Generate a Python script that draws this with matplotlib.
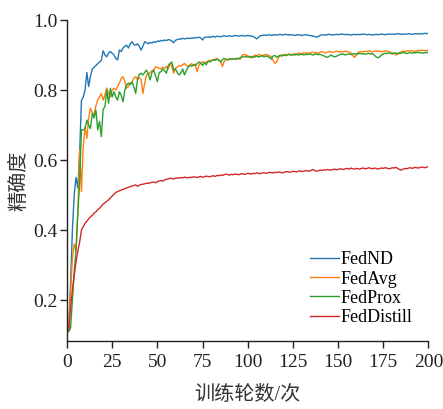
import numpy as np
import matplotlib
matplotlib.use("Agg")
import matplotlib.pyplot as plt

plt.rcParams['font.family'] = ['Liberation Serif', 'Noto Sans CJK SC']

# accuracy per training round (rounds 1..200)
fednd = [
    0.12, 0.25, 0.40, 0.50, 0.55, 0.52, 0.62, 0.77, 0.78, 0.80,
    0.85, 0.81, 0.84, 0.86, 0.865, 0.87, 0.875, 0.88, 0.885, 0.912,
    0.90, 0.895, 0.905, 0.91, 0.905, 0.90, 0.89, 0.886, 0.914, 0.91,
    0.92, 0.925, 0.928, 0.92, 0.932, 0.938, 0.93, 0.928, 0.932, 0.925,
    0.914, 0.925, 0.938, 0.935, 0.932, 0.936, 0.934, 0.938, 0.936, 0.94,
    0.939, 0.942, 0.94, 0.943, 0.941, 0.944, 0.943, 0.94, 0.935, 0.942,
    0.944, 0.946, 0.945, 0.948, 0.946, 0.947, 0.948, 0.947, 0.949, 0.948,
    0.95, 0.949, 0.951, 0.949, 0.943, 0.95, 0.951, 0.952, 0.95,
    0.952, 0.953, 0.951, 0.954, 0.953, 0.952, 0.954, 0.955, 0.953, 0.954,
    0.955, 0.953, 0.954, 0.956, 0.955, 0.954, 0.955, 0.956, 0.954, 0.955,
    0.956, 0.955, 0.954, 0.953, 0.950,
    0.946, 0.951,
    0.955, 0.956, 0.957, 0.956, 0.957, 0.958, 0.956, 0.957, 0.958, 0.957,
    0.958, 0.959, 0.957, 0.958, 0.959, 0.958,
    0.957, 0.958, 0.957, 0.956, 0.957, 0.958, 0.957, 0.956, 0.957, 0.958,
    0.957, 0.956, 0.955, 0.954, 0.953,
    0.951, 0.953,
    0.956, 0.957, 0.958, 0.957, 0.958, 0.959, 0.958, 0.957, 0.958, 0.959,
    0.958, 0.959, 0.960, 0.959, 0.958, 0.959, 0.958, 0.957, 0.958, 0.959, 0.958,
    0.959, 0.958, 0.959, 0.960, 0.959, 0.958, 0.959, 0.958, 0.957, 0.958,
    0.959, 0.958, 0.959, 0.960, 0.959, 0.958, 0.959, 0.960, 0.959, 0.960,
    0.959, 0.960, 0.961, 0.960, 0.959, 0.960, 0.959, 0.960, 0.961, 0.960,
    0.959, 0.960, 0.961, 0.960, 0.961, 0.960, 0.961, 0.962, 0.961, 0.962,
]

fedavg = [
    0.12, 0.22, 0.32, 0.36, 0.34, 0.45, 0.63, 0.51, 0.64, 0.695,
    0.662, 0.72, 0.748, 0.735, 0.729, 0.755, 0.771, 0.78, 0.79, 0.771,
    0.785, 0.806, 0.79, 0.78, 0.80, 0.805, 0.80, 0.81, 0.82, 0.833,
    0.838, 0.825, 0.805, 0.81, 0.82, 0.823, 0.834, 0.838, 0.83, 0.835,
    0.83, 0.79, 0.82, 0.843, 0.845, 0.85, 0.855, 0.857, 0.866, 0.865,
    0.862, 0.86, 0.865, 0.862, 0.867, 0.86, 0.876, 0.868, 0.848, 0.862,
    0.865, 0.87, 0.868, 0.872, 0.876, 0.87, 0.868, 0.872, 0.875, 0.87,
    0.874, 0.852, 0.87, 0.878, 0.88, 0.88, 0.878, 0.883, 0.885, 0.884,
    0.886, 0.888, 0.89, 0.886, 0.88, 0.867, 0.882, 0.888, 0.886, 0.89,
    0.888, 0.89, 0.887, 0.889, 0.89, 0.888, 0.9, 0.902, 0.9, 0.898,
    0.895, 0.892, 0.896, 0.9, 0.898, 0.901, 0.9, 0.898, 0.9, 0.902,
    0.9, 0.898, 0.895, 0.885, 0.876, 0.88, 0.892, 0.898, 0.9, 0.902,
    0.9, 0.901, 0.903,
    0.9, 0.902, 0.904, 0.901, 0.906, 0.905, 0.903, 0.907, 0.905, 0.906,
    0.904, 0.907, 0.908, 0.906, 0.907, 0.905, 0.908, 0.91, 0.908, 0.906,
    0.908, 0.91, 0.909, 0.907, 0.909, 0.911, 0.91, 0.908, 0.91, 0.909,
    0.911, 0.91, 0.908, 0.906, 0.9,
    0.893, 0.9,
    0.907, 0.909, 0.91, 0.909, 0.911, 0.91, 0.912, 0.91, 0.909, 0.911,
    0.912, 0.91, 0.911, 0.909, 0.91, 0.912, 0.911, 0.909, 0.908, 0.906,
    0.905, 0.9, 0.902, 0.907, 0.909, 0.911, 0.91, 0.912, 0.911, 0.913,
    0.912, 0.91, 0.911, 0.913, 0.912, 0.914, 0.913, 0.912, 0.914, 0.912,
]

fedprox = [
    0.11, 0.12, 0.2, 0.28, 0.343, 0.45, 0.534, 0.686, 0.686, 0.69,
    0.714, 0.70, 0.69, 0.733, 0.72, 0.743, 0.686, 0.71, 0.667, 0.745,
    0.752, 0.80, 0.762, 0.805, 0.78, 0.795, 0.78, 0.771, 0.795, 0.785,
    0.766, 0.80, 0.814, 0.82, 0.815, 0.823, 0.81, 0.79, 0.829, 0.845,
    0.848, 0.843, 0.85, 0.857, 0.845, 0.829, 0.85, 0.857, 0.84, 0.824,
    0.85, 0.852, 0.86, 0.855, 0.848, 0.87, 0.876, 0.88, 0.857, 0.86,
    0.85, 0.843, 0.848, 0.86, 0.843, 0.855, 0.865, 0.87, 0.868, 0.872,
    0.87, 0.875, 0.88, 0.877, 0.87, 0.878, 0.872, 0.882, 0.88, 0.884,
    0.886, 0.885, 0.888, 0.885, 0.88, 0.887, 0.89, 0.888, 0.886, 0.889,
    0.887, 0.89, 0.888, 0.891, 0.889, 0.893, 0.895, 0.894, 0.896, 0.894,
    0.894, 0.896, 0.893, 0.895, 0.897, 0.894, 0.896, 0.898, 0.895, 0.897,
    0.896, 0.893, 0.888, 0.897, 0.899,
    0.893, 0.897, 0.899, 0.897, 0.9, 0.898, 0.9, 0.902, 0.899, 0.901,
    0.9, 0.902, 0.9, 0.901, 0.903,
    0.9, 0.902, 0.901, 0.903, 0.902, 0.9, 0.902, 0.903, 0.901, 0.902,
    0.9, 0.898, 0.895, 0.893, 0.896, 0.9, 0.897, 0.895, 0.896, 0.899,
    0.901, 0.903, 0.902, 0.9, 0.902, 0.903, 0.901, 0.903, 0.904, 0.902,
    0.903, 0.905, 0.903, 0.904, 0.902, 0.904, 0.905, 0.903, 0.904, 0.9, 0.895,
    0.892, 0.895,
    0.9, 0.903, 0.905, 0.904, 0.906, 0.905, 0.903, 0.905, 0.906, 0.904,
    0.906, 0.905, 0.907, 0.906, 0.904, 0.906, 0.907, 0.905, 0.907, 0.906,
    0.908, 0.906, 0.907, 0.905, 0.906, 0.908, 0.905,
]

feddistill = [
    0.114, 0.18, 0.23, 0.27, 0.31, 0.34, 0.365, 0.40, 0.41, 0.419,
    0.425, 0.432, 0.438, 0.442, 0.448, 0.452, 0.458, 0.462, 0.468, 0.474,
    0.478, 0.482, 0.486, 0.492, 0.497, 0.502, 0.507, 0.51, 0.512, 0.514,
    0.516, 0.518, 0.52, 0.522, 0.524, 0.526, 0.527, 0.529, 0.525, 0.528,
    0.53, 0.531, 0.532, 0.534, 0.533, 0.535, 0.536, 0.537, 0.535, 0.538,
    0.54, 0.541, 0.54, 0.543, 0.545, 0.546, 0.548, 0.547, 0.546, 0.548,
    0.549, 0.548, 0.55, 0.549, 0.551, 0.55, 0.549, 0.551, 0.55, 0.552,
    0.551, 0.55, 0.552, 0.553, 0.551, 0.552, 0.554, 0.553, 0.552, 0.554,
    0.555, 0.553, 0.556, 0.555, 0.557, 0.556, 0.558, 0.56, 0.558, 0.557,
    0.559, 0.558, 0.56, 0.559, 0.558, 0.56, 0.561, 0.559, 0.56, 0.562,
    0.561, 0.56, 0.562, 0.561, 0.563, 0.562, 0.561, 0.563, 0.564, 0.562,
    0.563, 0.565, 0.564, 0.563, 0.565, 0.564, 0.566, 0.565, 0.563, 0.565,
    0.566, 0.567, 0.565, 0.566, 0.568, 0.567, 0.566, 0.568, 0.569, 0.567,
    0.568, 0.57, 0.569, 0.568, 0.57, 0.573, 0.57, 0.568, 0.569, 0.571,
    0.57, 0.572, 0.571, 0.573, 0.572, 0.571, 0.573, 0.574, 0.572, 0.573,
    0.575, 0.574, 0.573, 0.575, 0.576, 0.574, 0.577, 0.575, 0.574, 0.576,
    0.575, 0.574, 0.576, 0.577, 0.575, 0.576, 0.578, 0.576, 0.575, 0.577,
    0.576, 0.574, 0.576, 0.577, 0.576, 0.578, 0.577, 0.575, 0.576, 0.578,
    0.577, 0.579, 0.576, 0.573, 0.571, 0.574, 0.576, 0.575, 0.577, 0.578,
    0.576, 0.578, 0.579, 0.577, 0.578, 0.58, 0.579, 0.578, 0.58, 0.581,
]

series = {
    'FedND': fednd,
    'FedAvg': fedavg,
    'FedProx': fedprox,
    'FedDistill': feddistill,
}
colors = ['#1f77b4', '#ff7f0e', '#2ca02c', '#d62728']

fig = plt.figure(figsize=(4.43, 4.09), dpi=100)
ax = fig.add_axes([0.1512, 0.1663, 0.816, 0.7848])

rounds = np.arange(1, 201)
for (name, vals), c in zip(series.items(), colors):
    ax.plot(rounds, vals, color=c, lw=1.0, label=name)

ax.set_xlim(0, 200)
ax.set_ylim(0.083, 1.0)
ax.set_xticks(np.arange(0, 201, 25))
ax.set_yticks([0.2, 0.4, 0.6, 0.8, 1.0])
ax.set_yticklabels(['0.2', '0.4', '0.6', '0.8', '1.0'])

for side in ['top', 'right']:
    ax.spines[side].set_visible(False)
for side in ['left', 'bottom']:
    ax.spines[side].set_linewidth(1.0)
    ax.spines[side].set_color('#222222')
ax.tick_params(direction='out', length=5, width=1.0, colors='#222222',
               labelsize=14)
ax.tick_params(axis='x', pad=4.5)
ax.tick_params(axis='y', pad=1.5)

ax.set_xlabel('训练轮数/次', fontsize=14.5, color='#333333')
ax.set_ylabel('精确度', fontsize=14.5, color='#333333')
ax.xaxis.set_label_coords(0.5, -0.14)
ax.yaxis.set_label_coords(-0.105, 0.5)

ax.legend(loc='lower right', bbox_to_anchor=(0.932, 0.203),
          bbox_transform=fig.transFigure, frameon=False, fontsize=13,
          handlelength=1.6, handletextpad=0.1, labelspacing=0.12,
          borderpad=0, borderaxespad=0)

fig.savefig('out.png', dpi=100)
